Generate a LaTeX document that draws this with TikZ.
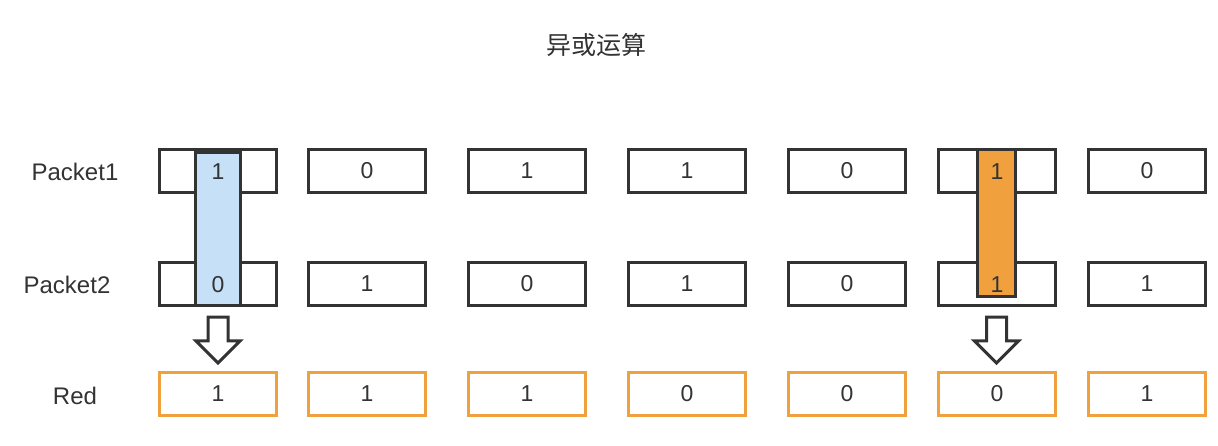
\documentclass[tikz,border=0pt]{standalone}
\usepackage{fontspec}
\setmainfont{Liberation Sans}
\newfontfamily\cjk{Noto Sans CJK SC}
\usepackage{tikz}
\usetikzlibrary{shapes.arrows}
\definecolor{boxline}{HTML}{333333}
\definecolor{redline}{HTML}{F0A03C}
\definecolor{bluefill}{HTML}{C6E0F7}
\definecolor{orangefill}{HTML}{F0A03C}

\begin{document}
\begin{tikzpicture}[x=1pt, y=-1pt,
  bit/.style={draw=boxline, line width=3pt, minimum width=117pt, minimum height=43pt,
              inner sep=0pt, text=boxline, font=\fontsize{23}{27}\selectfont},
  redbit/.style={bit, draw=redline, line width=2.6pt},
  bar/.style={draw=boxline, line width=3pt, inner sep=0pt, minimum width=#1},
  digit/.style={text=boxline, inner sep=0pt, font=\fontsize{23}{27}\selectfont},
  lbl/.style={text=boxline, font=\fontsize{24}{28}\selectfont},
  down/.style={single arrow, draw=boxline, fill=white, line width=3pt, rotate=-90,
               minimum height=46pt, single arrow head extend=12pt, inner xsep=0pt, inner ysep=8.5pt}]
  \useasboundingbox (0,0) rectangle (1218,446);
  % title
  \node[text=boxline, font=\cjk\fontsize{25}{29}\selectfont] (title) at (596,45) {异或运算};
  % row labels
  \node[lbl] (lab1) at (75,172) {Packet1};
  \node[lbl] (lab2) at (67,285) {Packet2};
  \node[lbl] (lab3) at (75,396) {Red};
  % row 1: Packet1
  \node[bit] (p1a) at (218,171)  {};
  \node[bit] (p1b) at (367,171)  {0};
  \node[bit] (p1c) at (527,171)  {1};
  \node[bit] (p1d) at (687,171)  {1};
  \node[bit] (p1e) at (847,171)  {0};
  \node[bit] (p1f) at (997,171)  {};
  \node[bit] (p1g) at (1147,171) {0};
  % row 2: Packet2
  \node[bit] (p2a) at (218,284)  {};
  \node[bit] (p2b) at (367,284)  {1};
  \node[bit] (p2c) at (527,284)  {0};
  \node[bit] (p2d) at (687,284)  {1};
  \node[bit] (p2e) at (847,284)  {0};
  \node[bit] (p2f) at (997,284)  {};
  \node[bit] (p2g) at (1147,284) {1};
  % row 3: Red
  \node[redbit] (r3a) at (218,394)  {1};
  \node[redbit] (r3b) at (367,394)  {1};
  \node[redbit] (r3c) at (527,394)  {1};
  \node[redbit] (r3d) at (687,394)  {0};
  \node[redbit] (r3e) at (847,394)  {0};
  \node[redbit] (r3f) at (997,394)  {0};
  \node[redbit] (r3g) at (1147,394) {1};
  % highlighted columns
  \node[bar=45pt, fill=bluefill, minimum height=153pt]   (blue)   at (218,229)   {};
  \node[bar=38pt, fill=orangefill, minimum height=147pt] (orange) at (996.5,223) {};
  \node[digit] (b1) at (218,172) {1};
  \node[digit] (b2) at (218,285) {0};
  \node[digit] (o1) at (997,172) {1};
  \node[digit] (o2) at (997,285) {1};
  % arrows down to the result
  \node[down] (arrA) at (218,335) {};
  \node[down] (arrB) at (996.5,335) {};
\end{tikzpicture}
\end{document}
